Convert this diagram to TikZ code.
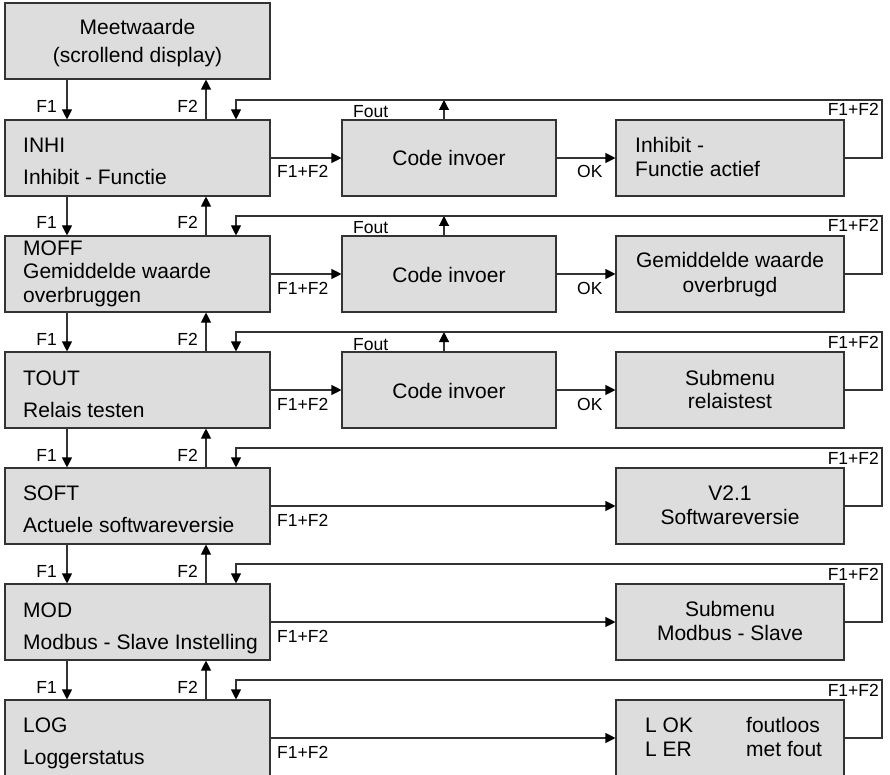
\documentclass[tikz,border=0pt]{standalone}
\usepackage{fontspec}
\setmainfont{Liberation Sans}
\usetikzlibrary{arrows.meta}
\definecolor{boxfill}{RGB}{221,221,221}
\definecolor{edge}{RGB}{51,51,51}
\tikzset{
  stepbox/.style={draw=edge, fill=boxfill, line width=1.1pt, inner sep=0pt, minimum height=76pt},
  mainbox/.style={stepbox, minimum width=265pt},
  codebox/.style={stepbox, minimum width=214pt},
  endbox/.style={stepbox, minimum width=228pt},
  txt/.style={font=\fontsize{21}{25}\selectfont, inner sep=0pt, text=black},
  lbl/.style={font=\fontsize{17.5}{20}\selectfont, inner sep=0pt, text=black},
  flow/.style={draw=edge, line width=1.1pt, -{Triangle[length=10pt, width=10pt, color=black]}},
  wire/.style={draw=edge, line width=1.1pt},
}
\begin{document}
\begin{tikzpicture}[x=1pt, y=-1pt]
\useasboundingbox (0,0) rectangle (890,775);
\begin{scope}
\clip (0,0) rectangle (890,775);

% top box
\node[mainbox] (meet) at (137.5,41) {};
\node[txt, anchor=base] (meet1) at (137.5,35) {Meetwaarde};
\node[txt, anchor=base] (meet2) at (137.5,63) {(scrollend display)};

% menu column (rows start at y = 120 + 116 k)
\node[mainbox] (inhi) at (137.5,158) {};
\node[mainbox] (moff) at (137.5,274) {};
\node[mainbox] (tout) at (137.5,390) {};
\node[mainbox] (soft) at (137.5,506) {};
\node[mainbox] (mod)  at (137.5,622) {};
\node[mainbox, minimum height=90pt] (log) at (137.5,745) {};

\node[txt, anchor=base west] (inhi1) at (23,153) {INHI};
\node[txt, anchor=base west] (inhi2) at (23,185) {Inhibit - Functie};
\node[txt, anchor=base west] (moff1) at (23,256) {MOFF};
\node[txt, anchor=base west] (moff2) at (23,279) {Gemiddelde waarde};
\node[txt, anchor=base west] (moff3) at (23,302) {overbruggen};
\node[txt, anchor=base west] (tout1) at (23,385) {TOUT};
\node[txt, anchor=base west] (tout2) at (23,417) {Relais testen};
\node[txt, anchor=base west] (soft1) at (23,500) {SOFT};
\node[txt, anchor=base west] (soft2) at (23,532) {Actuele softwareversie};
\node[txt, anchor=base west] (mod1)  at (23,617) {MOD};
\node[txt, anchor=base west] (mod2)  at (23,649) {Modbus - Slave Instelling};
\node[txt, anchor=base west] (log1)  at (23,732) {LOG};
\node[txt, anchor=base west] (log2)  at (23,764) {Loggerstatus};

% code entry boxes
\node[codebox] (c1) at (449,158) {};
\node[codebox] (c2) at (449,274) {};
\node[codebox] (c3) at (449,390) {};
\node[txt, anchor=base] (c1t) at (449,166) {Code invoer};
\node[txt, anchor=base] (c2t) at (449,282) {Code invoer};
\node[txt, anchor=base] (c3t) at (449,398) {Code invoer};

% result boxes
\node[endbox] (r1) at (730,158) {};
\node[endbox] (r2) at (730,274) {};
\node[endbox] (r3) at (730,390) {};
\node[endbox] (r4) at (730,506) {};
\node[endbox] (r5) at (730,622) {};
\node[endbox, minimum height=90pt] (r6) at (730,745) {};

\node[txt, anchor=base west] (r1a) at (635,153) {Inhibit -};
\node[txt, anchor=base west] (r1b) at (635,177) {Functie actief};
\node[txt, anchor=base] (r2a) at (730,268) {Gemiddelde waarde};
\node[txt, anchor=base] (r2b) at (730,292) {overbrugd};
\node[txt, anchor=base] (r3a) at (730,385) {Submenu};
\node[txt, anchor=base] (r3b) at (730,408) {relaistest};
\node[txt, anchor=base] (r4a) at (730,500) {V2.1};
\node[txt, anchor=base] (r4b) at (730,524) {Softwareversie};
\node[txt, anchor=base] (r5a) at (730,616) {Submenu};
\node[txt, anchor=base] (r5b) at (730,640) {Modbus - Slave};
\node[txt, anchor=base west] (r6a) at (645,732) {L OK};
\node[txt, anchor=base west] (r6b) at (645,756) {L ER};
\node[txt, anchor=base west] (r6c) at (746,732) {foutloos};
\node[txt, anchor=base west] (r6d) at (746,756) {met fout};

% F1 (down) and F2 (up) between consecutive menu boxes
\foreach \a/\b/\t in {meet/inhi/120, inhi/moff/236, moff/tout/352, tout/soft/468, soft/mod/584, mod/log/700} {
  \draw[flow] (\a.south -| 67,0) -- (\b.north -| 67,0);
  \draw[flow] (\b.north -| 206,0) -- (\a.south -| 206,0);
  \node[lbl, anchor=base east] at (57,\t-7) {F1};
  \node[lbl, anchor=base east] at (198,\t-7) {F2};
}

% return coordinates on the feedback lines
\foreach \r/\t in {1/120, 2/236, 3/352, 4/468, 5/584, 6/700} {
  \coordinate (top\r) at (236,\t-20);
  \coordinate (far\r) at (882,\t-20);
}

% F1+F2 from the menu boxes
\foreach \m/\c in {inhi/c1, moff/c2, tout/c3} {
  \draw[flow] (\m.east) -- (\c.west);
}
\foreach \m/\c in {soft/r4, mod/r5} {
  \draw[flow] (\m.east) -- (\c.west);
}
\draw[flow] (log.east |- 0,738) -- (r6.west |- 0,738);

% OK from code entry to result
\foreach \c/\r in {c1/r1, c2/r2, c3/r3} {
  \draw[flow] (\c.east) -- (\r.west);
}

% Fout from code entry up to the feedback line
\draw[flow] (c1.north -| 444,0) -- (444,100);
\draw[flow] (c2.north -| 444,0) -- (444,216);
\draw[flow] (c3.north -| 444,0) -- (444,332);

% F1+F2 back from the result boxes to the menu boxes
\draw[flow] (r1.east) -| (far1) -- (top1) -- (inhi.north -| top1);
\draw[flow] (r2.east) -| (far2) -- (top2) -- (moff.north -| top2);
\draw[flow] (r3.east) -| (far3) -- (top3) -- (tout.north -| top3);
\draw[flow] (r4.east) -| (far4) -- (top4) -- (soft.north -| top4);
\draw[flow] (r5.east) -| (far5) -- (top5) -- (mod.north -| top5);
\draw[flow] (r6.east |- 0,738) -| (far6) -- (top6) -- (log.north -| top6);

% labels on the connectors
\foreach \y in {158,274,390,506,622,738} {
  \node[lbl, anchor=base west] at (277,\y+20) {F1+F2};
}
\foreach \y in {158,274,390} {
  \node[lbl, anchor=base west] at (577,\y+20) {OK};
  \node[lbl, anchor=base west] at (353,\y-40) {Fout};
}
\foreach \t in {120,236,352,468,584,700} {
  \node[lbl, anchor=base east] at (879,\t-4) {F1+F2};
}
\end{scope}
\end{tikzpicture}
\end{document}
